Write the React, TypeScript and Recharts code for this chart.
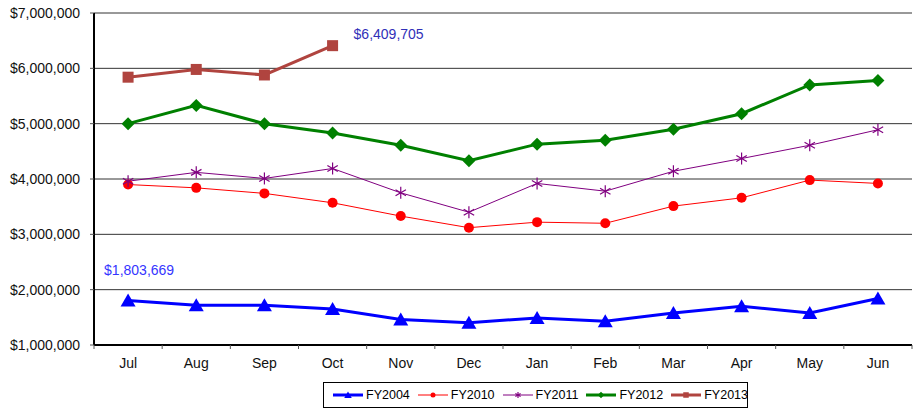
import React from 'react';
import { LineChart, Line, XAxis, YAxis, CartesianGrid, Legend, LabelList } from 'recharts';

const months = ['Jul', 'Aug', 'Sep', 'Oct', 'Nov', 'Dec', 'Jan', 'Feb', 'Mar', 'Apr', 'May', 'Jun'];
const fy2004 = [1803669, 1717000, 1717000, 1650000, 1460000, 1400000, 1490000, 1430000, 1580000, 1700000, 1580000, 1840000];
const fy2010 = [3900000, 3840000, 3740000, 3570000, 3330000, 3120000, 3220000, 3200000, 3510000, 3660000, 3980000, 3920000];
const fy2011 = [3960000, 4120000, 4010000, 4190000, 3750000, 3400000, 3920000, 3780000, 4140000, 4370000, 4610000, 4890000];
const fy2012 = [5000000, 5330000, 5000000, 4830000, 4610000, 4330000, 4630000, 4700000, 4900000, 5180000, 5700000, 5780000];
const fy2013: (number | null)[] = [5840000, 5980000, 5880000, 6409705, null, null, null, null, null, null, null, null];
const yTicks = [1000000, 2000000, 3000000, 4000000, 5000000, 6000000, 7000000];
const seriesNames = ['FY2004', 'FY2010', 'FY2011', 'FY2012', 'FY2013'];

const data = months.map((m, i) => ({
  month: m,
  FY2004: fy2004[i],
  FY2010: fy2010[i],
  FY2011: fy2011[i],
  FY2012: fy2012[i],
  FY2013: fy2013[i],
}));

const FONT = '"Liberation Sans", Arial, sans-serif';
const fmt = (v: number) => '$' + Math.round(v).toLocaleString('en-US');

const COLORS: Record<string, string> = {
  FY2004: '#0000ff',
  FY2010: '#ff0000',
  FY2011: '#800080',
  FY2012: '#008000',
  FY2013: '#b0443f',
};
const WIDTHS: Record<string, number> = { FY2004: 3, FY2010: 1, FY2011: 1, FY2012: 3, FY2013: 3 };
const SHAPES: Record<string, string> = { FY2004: 'tri', FY2010: 'circle', FY2011: 'star', FY2012: 'diamond', FY2013: 'square' };

const HALF_BAND = 34.08;

function Marker({ shape, cx, cy, color, s = 1 }: { shape: string; cx: number; cy: number; color: string; s?: number }) {
  switch (shape) {
    case 'tri':
      return <path d={`M${cx},${cy - 7 * s}L${cx + 7.5 * s},${cy + 6 * s}L${cx - 7.5 * s},${cy + 6 * s}Z`} fill={color} />;
    case 'circle':
      return <circle cx={cx} cy={cy} r={5 * s} fill={color} />;
    case 'star': {
      const r = 6 * s;
      const d = r * 0.87;
      return (
        <g stroke={color} strokeWidth={1.2}>
          <line x1={cx} y1={cy - r} x2={cx} y2={cy + r} />
          <line x1={cx - d} y1={cy - r * 0.5} x2={cx + d} y2={cy + r * 0.5} />
          <line x1={cx - d} y1={cy + r * 0.5} x2={cx + d} y2={cy - r * 0.5} />
        </g>
      );
    }
    case 'diamond':
      return <path d={`M${cx},${cy - 6.5 * s}L${cx + 6.5 * s},${cy}L${cx},${cy + 6.5 * s}L${cx - 6.5 * s},${cy}Z`} fill={color} />;
    case 'square':
      return <rect x={cx - 5.5 * s} y={cy - 5.5 * s} width={11 * s} height={11 * s} fill={color} />;
    default:
      return null;
  }
}

const makeDot = (name: string) => (props: any) => {
  const { cx, cy, index } = props;
  if (cx == null || cy == null || props.value == null || (Array.isArray(props.value) && props.value[1] == null)) {
    return <g key={`${name}-dot-${index}`} />;
  }
  return (
    <g key={`${name}-dot-${index}`}>
      <Marker shape={SHAPES[name]} cx={cx} cy={cy} color={COLORS[name]} />
    </g>
  );
};

const X_TICK_SIZE = 4;
const X_TICK_MARGIN = 9;

const XTick = (props: any) => {
  const { x, y, payload, index } = props;
  const half = HALF_BAND;
  const axisY = y - X_TICK_SIZE - X_TICK_MARGIN;
  return (
    <g>
      <line x1={x - half} x2={x - half} y1={axisY} y2={axisY + X_TICK_SIZE} stroke="#555" />
      {index === months.length - 1 && (
        <line x1={x + half} x2={x + half} y1={axisY} y2={axisY + X_TICK_SIZE} stroke="#555" />
      )}
      <text x={x} y={y} dy="0.71em" textAnchor="middle" fontSize={14} fontFamily={FONT} fill="#111">
        {payload.value}
      </text>
    </g>
  );
};

const LegendBox = () => (
  <div style={{ width: 913, height: 26, position: 'relative' }}>
    <div
      style={{
        position: 'absolute',
        left: 323,
        top: 0,
        width: 425,
        height: 26,
        boxSizing: 'border-box',
        border: '1px solid #000',
        display: 'flex',
        alignItems: 'center',
        paddingLeft: 9,
        gap: 8,
        fontFamily: FONT,
        fontSize: 12.5,
        color: '#000',
      }}
    >
      {seriesNames.map((n) => (
        <div key={n} style={{ display: 'flex', alignItems: 'center' }}>
          <svg width={30} height={12} style={{ display: 'block' }}>
            <line x1={0} x2={30} y1={6} y2={6} stroke={COLORS[n]} strokeWidth={WIDTHS[n]} />
            <Marker shape={SHAPES[n]} cx={15} cy={6} color={COLORS[n]} s={0.5} />
          </svg>
          <span style={{ marginLeft: 3, lineHeight: '14px' }}>{n}</span>
        </div>
      ))}
    </div>
  </div>
);

const Label2013 = (props: any) => {
  const { x, y, index, value } = props;
  if (index !== 3 || value == null) return null;
  return (
    <text x={x + 21} y={y - 12} dy="0.35em" fontSize={14} fontFamily={FONT} fill="#3030b8">
      {fmt(value)}
    </text>
  );
};

const Label2004 = (props: any) => {
  const { x, y, index, value } = props;
  if (index !== 0 || value == null) return null;
  return (
    <text x={x - 24} y={y - 30} dy="0.35em" fontSize={14} fontFamily={FONT} fill="#3535ff">
      {fmt(value)}
    </text>
  );
};

export default function App() {
  return (
    <div style={{ position: 'absolute', left: 0, top: 0, background: '#fff' }}>
      <LineChart width={913} height={410} data={data} margin={{ top: 13, right: 1, bottom: 2, left: 0 }}>
        <CartesianGrid vertical={false} stroke="#333" strokeWidth={1} />
        <XAxis
          dataKey="month"
          height={37}
          tickLine={false}
          tickSize={X_TICK_SIZE}
          tickMargin={X_TICK_MARGIN}
          axisLine={{ stroke: '#000', strokeWidth: 2 }}
          tick={<XTick />}
          interval={0}
          padding={{ left: HALF_BAND, right: HALF_BAND }}
        />
        <YAxis
          width={94}
          domain={[1000000, 7000000]}
          ticks={yTicks}
          tickFormatter={fmt}
          tickSize={4}
          tickMargin={10}
          tickLine={{ stroke: '#555' }}
          axisLine={{ stroke: '#000', strokeWidth: 2 }}
          tick={{ fontSize: 14, fontFamily: FONT, fill: '#111' }}
          allowDataOverflow
        />
        <Legend verticalAlign="bottom" align="left" content={<LegendBox />} wrapperStyle={{ left: 0, width: 913 }} />
        {seriesNames.map((n) => (
          <Line
            key={n}
            type="linear"
            dataKey={n}
            stroke={COLORS[n]}
            strokeWidth={WIDTHS[n]}
            dot={makeDot(n)}
            activeDot={false}
            isAnimationActive={false}
            connectNulls={false}
          >
            {n === 'FY2013' && <LabelList dataKey={n} content={<Label2013 />} />}
            {n === 'FY2004' && <LabelList dataKey={n} content={<Label2004 />} />}
          </Line>
        ))}
      </LineChart>
    </div>
  );
}
